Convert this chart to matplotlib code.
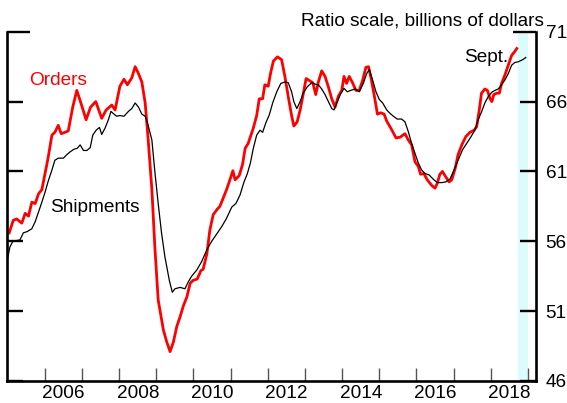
import matplotlib.pyplot as plt
import numpy as np

plt.rcParams['font.family'] = ['Liberation Sans', 'DejaVu Sans']

# values (decimal year, billions of dollars)
order_dates = [2005.04, 2005.15, 2005.24, 2005.38, 2005.47, 2005.56, 2005.65, 2005.74, 2005.83, 2005.92,
               2006.01, 2006.09, 2006.19, 2006.27, 2006.36, 2006.44, 2006.54, 2006.63, 2006.75, 2006.86,
               2006.97, 2007.11, 2007.23, 2007.37, 2007.53, 2007.65, 2007.80, 2007.89, 2008.02, 2008.13,
               2008.22, 2008.34, 2008.43, 2008.52, 2008.61, 2008.70, 2008.78, 2008.88, 2008.96, 2009.05,
               2009.19, 2009.28, 2009.37, 2009.46, 2009.55, 2009.64, 2009.73, 2009.82, 2009.91, 2009.99,
               2010.10, 2010.20, 2010.26, 2010.36, 2010.44, 2010.53, 2010.64, 2010.71, 2010.80, 2010.89,
               2010.98, 2011.06, 2011.12, 2011.23, 2011.32, 2011.39, 2011.47, 2011.61, 2011.70, 2011.77,
               2011.86, 2011.92, 2012.01, 2012.08, 2012.15, 2012.26, 2012.37, 2012.46, 2012.55, 2012.64,
               2012.70, 2012.79, 2012.87, 2012.94, 2013.03, 2013.12, 2013.21, 2013.29, 2013.36, 2013.45,
               2013.54, 2013.63, 2013.72, 2013.81, 2013.90, 2013.99, 2014.05, 2014.12, 2014.19, 2014.28,
               2014.37, 2014.46, 2014.55, 2014.64, 2014.71, 2014.78, 2014.86, 2014.95, 2015.04, 2015.13,
               2015.20, 2015.33, 2015.45, 2015.56, 2015.69, 2015.78, 2015.87, 2015.96, 2016.05, 2016.11,
               2016.20, 2016.29, 2016.41, 2016.50, 2016.56, 2016.63, 2016.70, 2016.79, 2016.88, 2016.95,
               2017.04, 2017.12, 2017.22, 2017.33, 2017.44, 2017.55, 2017.62, 2017.69, 2017.75, 2017.84,
               2017.91, 2017.98, 2018.03, 2018.08, 2018.16, 2018.23, 2018.29, 2018.38, 2018.47, 2018.56,
               2018.65, 2018.70]
order_values = [56.6, 57.5, 57.6, 57.3, 58.0, 57.8, 58.8, 58.7, 59.4, 59.7,
                60.9, 62.0, 63.6, 63.8, 64.3, 63.7, 63.8, 63.9, 65.6, 66.8,
                65.9, 64.7, 65.6, 66.0, 64.8, 65.4, 65.75, 65.4, 67.1, 67.6,
                67.2, 67.7, 68.5, 68.0, 67.4, 65.9, 63.3, 59.7, 55.6, 51.8,
                49.65, 48.8, 48.1, 48.8, 49.9, 50.6, 51.4, 52.0, 53.0, 53.2,
                53.3, 53.9, 54.0, 55.1, 56.8, 57.9, 58.3, 58.5, 59.1, 59.7,
                60.4, 61.05, 60.4, 60.7, 61.5, 62.65, 63.0, 64.1, 65.0, 66.2,
                66.2, 67.2, 67.1, 68.1, 68.9, 69.2, 69.0, 67.8, 66.35, 65.0,
                64.25, 64.55, 65.4, 66.35, 67.65, 67.5, 67.35, 66.5, 67.4, 68.2,
                67.8, 67.05, 66.2, 65.6, 66.4, 66.8, 67.8, 67.3, 67.8, 67.35,
                66.8, 66.8, 67.5, 68.45, 68.5, 67.65, 66.5, 65.1, 65.2, 65.1,
                64.6, 64.0, 63.4, 63.45, 63.7, 63.25, 62.9, 61.7, 61.35, 60.8,
                60.85, 60.4, 60.0, 59.8, 60.15, 60.8, 61.0, 60.6, 60.25, 60.4,
                61.2, 62.2, 62.9, 63.5, 63.8, 63.95, 64.2, 65.4, 66.6, 66.9,
                66.8, 66.2, 66.0, 66.5, 66.6, 66.6, 67.3, 67.9, 68.6, 69.3,
                69.6, 69.8]

ship_dates = [2005.00, 2005.06, 2005.14, 2005.24, 2005.33, 2005.42, 2005.53, 2005.65, 2005.74, 2005.83,
              2005.92, 2006.01, 2006.09, 2006.19, 2006.27, 2006.36, 2006.50, 2006.59, 2006.68, 2006.79,
              2006.87, 2006.95, 2007.04, 2007.13, 2007.22, 2007.29, 2007.38, 2007.47, 2007.53, 2007.62,
              2007.71, 2007.78, 2007.84, 2007.93, 2008.02, 2008.13, 2008.25, 2008.34, 2008.43, 2008.52,
              2008.61, 2008.70, 2008.78, 2008.88, 2008.96, 2009.05, 2009.14, 2009.23, 2009.35, 2009.43,
              2009.50, 2009.64, 2009.77, 2009.86, 2009.95, 2010.09, 2010.22, 2010.36, 2010.49, 2010.62,
              2010.76, 2010.89, 2011.03, 2011.14, 2011.25, 2011.36, 2011.45, 2011.53, 2011.61, 2011.70,
              2011.79, 2011.86, 2011.95, 2012.04, 2012.13, 2012.24, 2012.35, 2012.46, 2012.55, 2012.64,
              2012.70, 2012.78, 2012.87, 2012.95, 2013.06, 2013.18, 2013.27, 2013.36, 2013.45, 2013.54,
              2013.63, 2013.72, 2013.78, 2013.87, 2013.96, 2014.05, 2014.14, 2014.23, 2014.35, 2014.46,
              2014.57, 2014.66, 2014.73, 2014.82, 2014.91, 2015.00, 2015.09, 2015.20, 2015.29, 2015.38,
              2015.48, 2015.60, 2015.69, 2015.78, 2015.87, 2015.96, 2016.05, 2016.14, 2016.23, 2016.34,
              2016.45, 2016.56, 2016.68, 2016.79, 2016.90, 2017.01, 2017.12, 2017.24, 2017.35, 2017.46,
              2017.57, 2017.66, 2017.75, 2017.84, 2017.93, 2018.02, 2018.11, 2018.20, 2018.29, 2018.38,
              2018.47, 2018.56, 2018.65, 2018.74, 2018.86, 2018.94]
ship_values = [54.8, 55.6, 56.0, 56.05, 56.1, 56.6, 56.7, 56.9, 57.4, 58.1,
               58.8, 59.55, 60.3, 61.1, 61.8, 61.95, 61.95, 62.2, 62.4, 62.6,
               62.65, 62.9, 62.5, 62.5, 62.7, 63.6, 63.95, 64.15, 63.65, 64.1,
               64.7, 65.3, 65.15, 64.95, 65.0, 64.95, 65.3, 65.5, 65.9, 65.6,
               65.1, 64.95, 64.3, 63.25, 61.0, 58.7, 56.6, 54.9, 53.2, 52.35,
               52.6, 52.7, 52.6, 53.1, 53.5, 53.95, 54.55, 55.4, 56.0, 56.5,
               57.05, 57.65, 58.45, 58.7, 59.3, 60.25, 60.85, 61.6, 62.65, 63.6,
               63.95, 63.8, 64.5, 65.05, 65.9, 66.7, 67.3, 67.4, 67.35, 66.7,
               66.0, 65.5, 66.0, 66.6, 67.05, 67.35, 67.25, 67.2, 66.9, 66.5,
               66.0, 65.5, 65.4, 66.0, 66.55, 66.95, 66.7, 66.8, 66.9, 66.7,
               67.3, 68.0, 68.3, 67.55, 66.7, 66.15, 65.9, 65.4, 65.15, 64.95,
               64.75, 64.75, 64.55, 63.85, 63.0, 62.3, 61.6, 61.1, 60.85, 60.75,
               60.45, 60.2, 60.2, 60.25, 60.45, 61.1, 61.8, 62.55, 63.0, 63.45,
               63.95, 64.7, 65.25, 65.9, 66.35, 66.65, 66.8, 66.9, 67.2, 67.55,
               68.0, 68.6, 68.8, 68.85, 69.0, 69.15]

shade_start, shade_end = 2018.73, 2019.0
year_ticks = np.arange(2006, 2020)
label_years = [2006, 2008, 2010, 2012, 2014, 2016, 2018]
y_ticks = [46, 51, 56, 61, 66]
y_top = 71

fig = plt.figure(figsize=(5.67, 4.03), dpi=100)
ax = fig.add_axes([0.0129, 0.0546, 0.9333, 0.8667])

ax.axvspan(shade_start, shade_end, color='#dcfcfc', lw=0, zorder=0)
ax.plot(order_dates, order_values, color='#ff0000', lw=2.0, zorder=2)
ax.plot(ship_dates, ship_values, color='black', lw=0.9, zorder=3)

ax.set_xlim(2004.99, 2019.23)
ax.set_ylim(46, 71)

for s in ['left', 'right', 'bottom']:
    ax.spines[s].set_linewidth(1.9)
ax.spines['top'].set_visible(False)

# x axis: year ticks, labels centred in the year
ax.set_xticks(year_ticks)
ax.set_xticklabels([])
ax.tick_params(axis='x', which='major', direction='in', length=9.5, width=1.0, color='#555555')
ax.set_xticks([y + 0.5 for y in label_years], minor=True)
ax.set_xticklabels([str(y) for y in label_years], minor=True)
ax.tick_params(axis='x', which='minor', length=0, pad=3, labelsize=13.7)

# y axis: ticks both sides, labels on the right
ax.set_yticks(y_ticks)
ax.set_yticks([y_top], minor=True)
ax.set_yticklabels([str(v) for v in y_ticks])
ax.set_yticklabels([str(y_top)], minor=True)
ax.tick_params(axis='y', which='both', direction='in', left=True, right=True,
               labelleft=False, labelright=True, width=1.7, pad=6.5, labelsize=13.7)
ax.tick_params(axis='y', which='major', length=11.5)
ax.tick_params(axis='y', which='minor', length=16.5)

ax.text(1.0147, 1.018, 'Ratio scale, billions of dollars', transform=ax.transAxes,
        ha='right', va='baseline', fontsize=13.7)
ax.text(2005.57, 67.2, 'Orders', color='#ff0000', ha='left', va='baseline', fontsize=13.7)
ax.text(2006.15, 58.1, 'Shipments', color='black', ha='left', va='baseline', fontsize=13.7)
ax.text(2018.47, 68.85, 'Sept.', color='black', ha='right', va='baseline', fontsize=13.7)

fig.savefig('out.png', dpi=100)
